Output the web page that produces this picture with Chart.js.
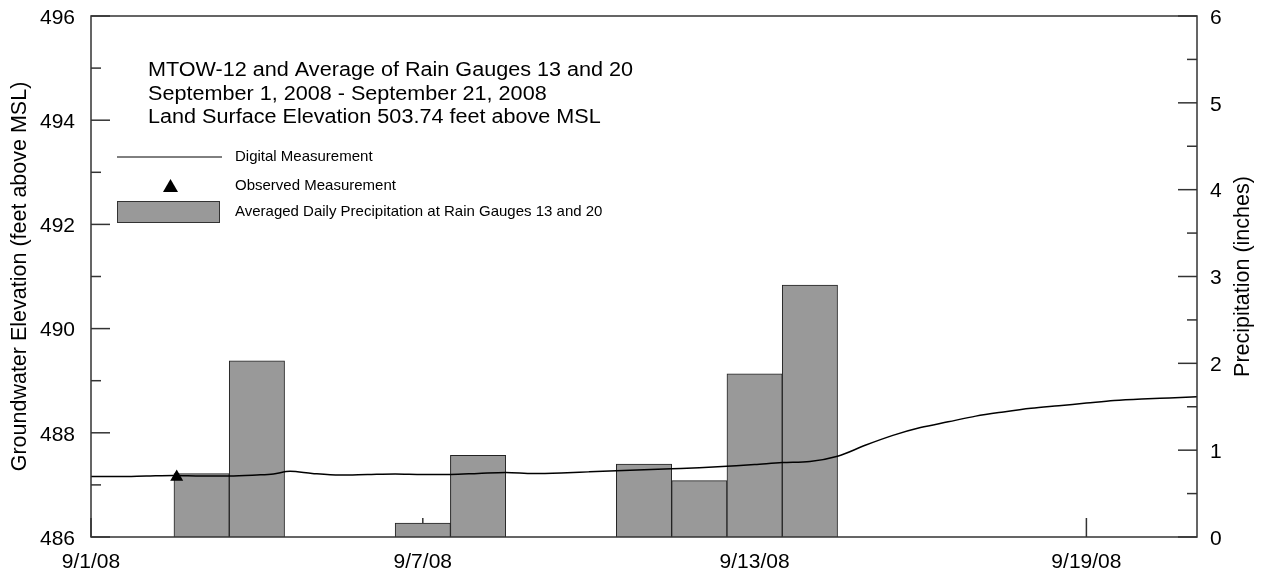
<!DOCTYPE html>
<html><head><meta charset="utf-8">
<script src="https://cdn.jsdelivr.net/npm/chart.js@4.4.1/dist/chart.umd.min.js"></script>
<style>html,body{margin:0;padding:0;background:#fff;}#wrap{width:1265px;height:577px;position:relative;}</style>
</head><body><div id="wrap"><canvas id="c" width="1265" height="577"></canvas></div>
<script>
// ---- data ----
const xTickDays = [0, 6, 12, 18];
const xTickLabels = ['9/1/08', '9/7/08', '9/13/08', '9/19/08'];
const elevTicks = [486, 488, 490, 492, 494, 496];
const precipTicks = [0, 1, 2, 3, 4, 5, 6];
const rainDays = [2, 3, 6, 7, 10, 11, 12, 13];
const rainInches = [0.73, 2.03, 0.16, 0.94, 0.84, 0.65, 1.88, 2.90];
const digitalDays = [0, 0.5, 1, 1.5, 2, 2.5, 3, 3.3, 3.6, 4, 4.5, 5, 5.5, 6, 6.5, 7, 7.5, 8, 8.5, 9, 9.5, 10, 10.5, 11, 11.5, 12, 12.5, 13, 13.5, 14, 14.5, 15, 15.5, 16, 16.5, 17, 17.5, 18, 18.5, 19, 19.5, 20];
const digitalElev = [487.16, 487.16, 487.17, 487.18, 487.17, 487.17, 487.19, 487.21, 487.26, 487.22, 487.19, 487.20, 487.21, 487.20, 487.20, 487.22, 487.24, 487.22, 487.23, 487.25, 487.27, 487.29, 487.31, 487.33, 487.36, 487.39, 487.43, 487.45, 487.55, 487.76, 487.95, 488.10, 488.21, 488.32, 488.40, 488.47, 488.52, 488.57, 488.62, 488.65, 488.67, 488.69];
const observedDays = [1.55];
const observedElev = [487.15];
const titleLines = ['MTOW-12 and Average of Rain Gauges 13 and 20', 'September 1, 2008 - September 21, 2008', 'Land Surface Elevation 503.74 feet above MSL'];
const legendLabels = ['Digital Measurement', 'Observed Measurement', 'Averaged Daily Precipitation at Rain Gauges 13 and 20'];
const leftTitle = 'Groundwater Elevation (feet above MSL)';
const rightTitle = 'Precipitation (inches)';

const FONT = "'Liberation Sans', Arial, sans-serif";
const BAR_FILL = '#999999';
const AXIS_COLOR = '#333333';

function midpoints(arr) { const m = []; for (let i = 0; i < arr.length - 1; i++) m.push((arr[i] + arr[i + 1]) / 2); return m; }

const axesPlugin = {
  id: 'axesPlugin',
  beforeDatasetsDraw(chart) {
    const { ctx, chartArea: a, scales } = chart;
    ctx.save();
    ctx.strokeStyle = AXIS_COLOR; ctx.lineWidth = 1.5;
    const seg = (x1, y1, x2, y2) => { ctx.beginPath(); ctx.moveTo(x1, y1); ctx.lineTo(x2, y2); ctx.stroke(); };
    elevTicks.forEach(v => { const p = scales.y.getPixelForValue(v); seg(a.left, p, a.left + 19, p); });
    midpoints(elevTicks).forEach(v => { const p = scales.y.getPixelForValue(v); seg(a.left, p, a.left + 10, p); });
    precipTicks.forEach(v => { const p = scales.y2.getPixelForValue(v); seg(a.right, p, a.right - 19, p); });
    midpoints(precipTicks).forEach(v => { const p = scales.y2.getPixelForValue(v); seg(a.right, p, a.right - 10, p); });
    xTickDays.forEach(v => { const p = scales.x.getPixelForValue(v); seg(p, a.bottom, p, a.bottom - 19); });
    ctx.restore();
  },
  afterDatasetsDraw(chart) {
    const { ctx, chartArea: a } = chart;
    ctx.save();
    ctx.strokeStyle = AXIS_COLOR; ctx.lineWidth = 1.5;
    ctx.strokeRect(a.left, a.top, a.right - a.left, a.bottom - a.top);
    ctx.restore();
  },
  afterDraw(chart) {
    const { ctx, chartArea: a } = chart;
    ctx.save();
    ctx.fillStyle = '#000';
    ctx.font = '20px ' + FONT;
    ctx.textBaseline = 'alphabetic';
    ctx.textAlign = 'left';
    const baseY = [76, 99.5, 123];
    titleLines.forEach((t, i) => {
      ctx.save(); ctx.translate(148, baseY[i]); ctx.scale(1.08, 1); ctx.fillText(t, 0, 0); ctx.restore();
    });
    // legend
    ctx.strokeStyle = '#000'; ctx.lineWidth = 1;
    ctx.beginPath(); ctx.moveTo(117, 157); ctx.lineTo(222, 157); ctx.stroke();
    ctx.beginPath(); ctx.moveTo(170.5, 179); ctx.lineTo(178, 192); ctx.lineTo(163, 192); ctx.closePath(); ctx.fill();
    ctx.fillStyle = BAR_FILL; ctx.fillRect(117, 201, 103, 22);
    ctx.strokeStyle = AXIS_COLOR; ctx.strokeRect(117.5, 201.5, 102, 21);
    ctx.fillStyle = '#000';
    ctx.font = '15px ' + FONT;
    ctx.textBaseline = 'middle';
    const ly = [157, 186, 212];
    legendLabels.forEach((t, i) => ctx.fillText(t, 235, ly[i]));
    // right axis title (reads bottom-to-top)
    ctx.font = '21.5px ' + FONT;
    ctx.translate(1243, (a.top + a.bottom) / 2);
    ctx.rotate(-Math.PI / 2);
    ctx.textAlign = 'center'; ctx.textBaseline = 'middle';
    ctx.fillText(rightTitle, 0, 0);
    ctx.restore();
  }
};

const fitV = w => s => { s.width = w; s.paddingTop = 0; s.paddingBottom = 0; };

new Chart(document.getElementById('c'), {
  data: {
    datasets: [
      { type: 'scatter', label: legendLabels[1], data: observedDays.map((d, i) => ({ x: d, y: observedElev[i] })), yAxisID: 'y', pointStyle: 'triangle', pointRadius: 7.5, backgroundColor: '#000', borderColor: '#000', borderWidth: 0, order: 1 },
      { type: 'line', label: legendLabels[0], data: digitalDays.map((d, i) => ({ x: d, y: digitalElev[i] })), yAxisID: 'y', borderColor: '#000', borderWidth: 1.5, pointRadius: 0, cubicInterpolationMode: 'monotone', fill: false, order: 2 },
      { type: 'bar', label: legendLabels[2], data: rainDays.map((d, i) => ({ x: d, y: rainInches[i] })), yAxisID: 'y2', backgroundColor: BAR_FILL, borderColor: '#222', borderWidth: 1, barPercentage: 1, categoryPercentage: 1, order: 3 }
    ]
  },
  options: {
    responsive: false, devicePixelRatio: 1, animation: false,
    layout: { autoPadding: false, padding: { top: 16, left: 0, right: 0, bottom: 0 } },
    plugins: { legend: { display: false }, tooltip: { enabled: false }, title: { display: false } },
    scales: {
      x: {
        type: 'linear', min: 0, max: 20, offset: false,
        grid: { display: false, drawTicks: false }, border: { display: false },
        afterBuildTicks: s => { s.ticks = xTickDays.map(v => ({ value: v })); },
        ticks: { padding: 13, maxRotation: 0, autoSkip: false, color: '#000', font: { family: FONT, size: 21 }, callback: v => xTickLabels[xTickDays.indexOf(v)] },
        afterFit: s => { s.height = 40; s.paddingLeft = 0; s.paddingRight = 0; }
      },
      y: {
        type: 'linear', position: 'left', min: 486, max: 496,
        grid: { display: false, drawTicks: false }, border: { display: false },
        afterBuildTicks: s => { s.ticks = elevTicks.map(v => ({ value: v })); },
        ticks: { padding: 16, labelOffset: 2, color: '#000', font: { family: FONT, size: 21 } },
        title: { display: true, text: leftTitle, color: '#000', font: { family: FONT, size: 21.5 }, padding: { top: 7, bottom: 0 } },
        afterFit: fitV(91)
      },
      y2: {
        type: 'linear', position: 'right', min: 0, max: 6,
        grid: { display: false, drawTicks: false }, border: { display: false },
        afterBuildTicks: s => { s.ticks = precipTicks.map(v => ({ value: v })); },
        ticks: { padding: 13, labelOffset: 2, color: '#000', font: { family: FONT, size: 21 } },
        afterFit: fitV(68)
      }
    }
  },
  plugins: [axesPlugin]
});
</script></body></html>
